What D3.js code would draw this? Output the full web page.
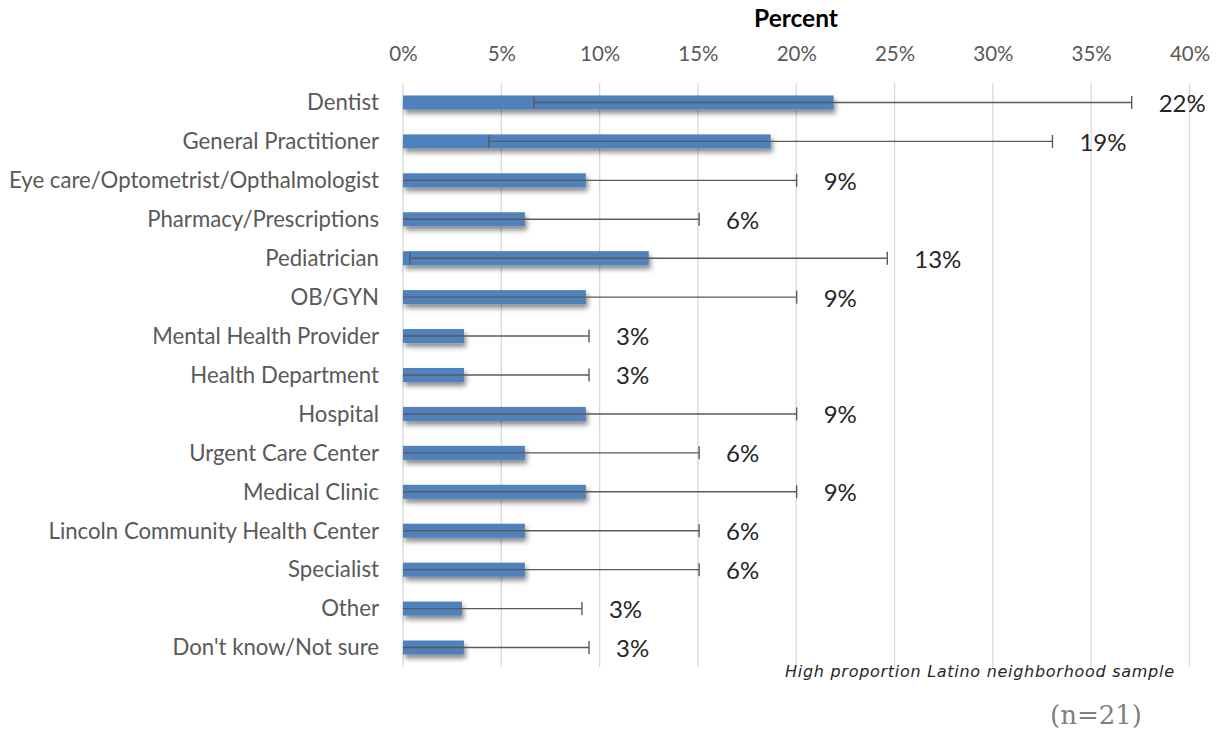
<!DOCTYPE html>
<html><head><meta charset="utf-8">
<script src="https://cdn.jsdelivr.net/npm/d3@7"></script>
<style>body{margin:0;background:#fff}svg{display:block}</style>
</head><body><svg id="c" width="1228" height="734"></svg>
<script>
const categories = ["Dentist","General Practitioner","Eye care/Optometrist/Opthalmologist","Pharmacy/Prescriptions","Pediatrician","OB/GYN","Mental Health Provider","Health Department","Hospital","Urgent Care Center","Medical Clinic","Lincoln Community Health Center","Specialist","Other","Don't know/Not sure"];
const values = [21.9,18.7,9.3,6.2,12.5,9.3,3.1,3.1,9.3,6.2,9.3,6.2,6.2,3.0,3.1];
const errLow = [6.66,4.37,0,0,0.35,0,0,0,0,0,0,0,0,0,0];
const errHigh = [37.06,33.03,20.02,15.06,24.63,20.02,9.46,9.46,20.02,15.06,20.02,15.06,15.06,9.1,9.46];
const valueLabels = ["22%","19%","9%","6%","13%","9%","3%","3%","9%","6%","9%","6%","6%","3%","3%"];
const tickValues = [0,5,10,15,20,25,30,35,40];

const svg = d3.select("#c");
const x = d3.scaleLinear().domain([0,40]).range([403,1189.5]);
const y = d3.scaleBand().domain(categories).range([83,667]).paddingInner(0.64).paddingOuter(0.32);
const font = "Lato, 'Open Sans', sans-serif";

const defs = svg.append("defs");
const f = defs.append("filter").attr("id","sh").attr("x","-10%").attr("y","-50%").attr("width","130%").attr("height","250%");
f.append("feDropShadow").attr("dx",2).attr("dy",4).attr("stdDeviation",2.5).attr("flood-color","#000").attr("flood-opacity",0.45);

// gridlines
svg.append("g").selectAll("line").data(tickValues).join("line")
  .attr("x1",d=>x(d)).attr("x2",d=>x(d)).attr("y1",83).attr("y2",667)
  .attr("stroke","#d9d9d9").attr("stroke-width",1.3);

// axis
const ax = svg.append("g").attr("transform","translate(0,61)")
  .call(d3.axisTop(x).tickValues(tickValues).tickFormat(d=>d+"%").tickSize(0).tickPadding(0));
ax.select(".domain").remove();
ax.selectAll("text").attr("font-family",font).attr("font-size",20.5).attr("fill","#595959");

svg.append("text").attr("x",796).attr("y",27).attr("text-anchor","middle")
  .attr("font-family",font).attr("font-weight","bold").attr("font-size",24.5).attr("fill","#000").text("Percent");

// category labels
svg.append("g").selectAll("text").data(categories).join("text")
  .attr("x",379).attr("y",d=>y(d)+y.bandwidth()/2).attr("dy","0.35em").attr("text-anchor","end")
  .attr("font-family",font).attr("font-size",22.2).attr("fill","#595959").text(d=>d);

// bars
svg.append("g").attr("filter","url(#sh)").selectAll("rect").data(categories).join("rect")
  .attr("x",x(0)).attr("y",d=>y(d)).attr("width",(d,i)=>x(values[i])-x(0)).attr("height",y.bandwidth())
  .attr("fill","#4f81bd");

// error bars
const eb = svg.append("g").attr("stroke","#5a5a5a").attr("stroke-width",1.4);
categories.forEach((c,i)=>{
  const cy = y(c)+y.bandwidth()/2;
  eb.append("line").attr("x1",x(errLow[i])).attr("x2",x(errHigh[i])).attr("y1",cy).attr("y2",cy);
  eb.append("line").attr("x1",x(errHigh[i])).attr("x2",x(errHigh[i])).attr("y1",cy-6.5).attr("y2",cy+6.5);
  if (errLow[i] > 0) eb.append("line").attr("x1",x(errLow[i])).attr("x2",x(errLow[i])).attr("y1",cy-6.5).attr("y2",cy+6.5);
});

// value labels
svg.append("g").selectAll("text").data(categories).join("text")
  .attr("x",(d,i)=>x(errHigh[i])+27).attr("y",d=>y(d)+y.bandwidth()/2+1).attr("dy","0.35em")
  .attr("font-family",font).attr("font-size",24).attr("fill","#262626").text((d,i)=>valueLabels[i]);

svg.append("text").attr("x",785).attr("y",677).attr("font-family","'DejaVu Sans', sans-serif")
  .attr("font-style","italic").attr("font-size",16).attr("letter-spacing",0.72).attr("fill","#262626")
  .text("High proportion Latino neighborhood sample");

svg.append("text").attr("x",1050).attr("y",724).attr("font-family","'DejaVu Serif', serif")
  .attr("font-size",26).attr("fill","#7f7f7f").text("(n=21)");
</script></body></html>
